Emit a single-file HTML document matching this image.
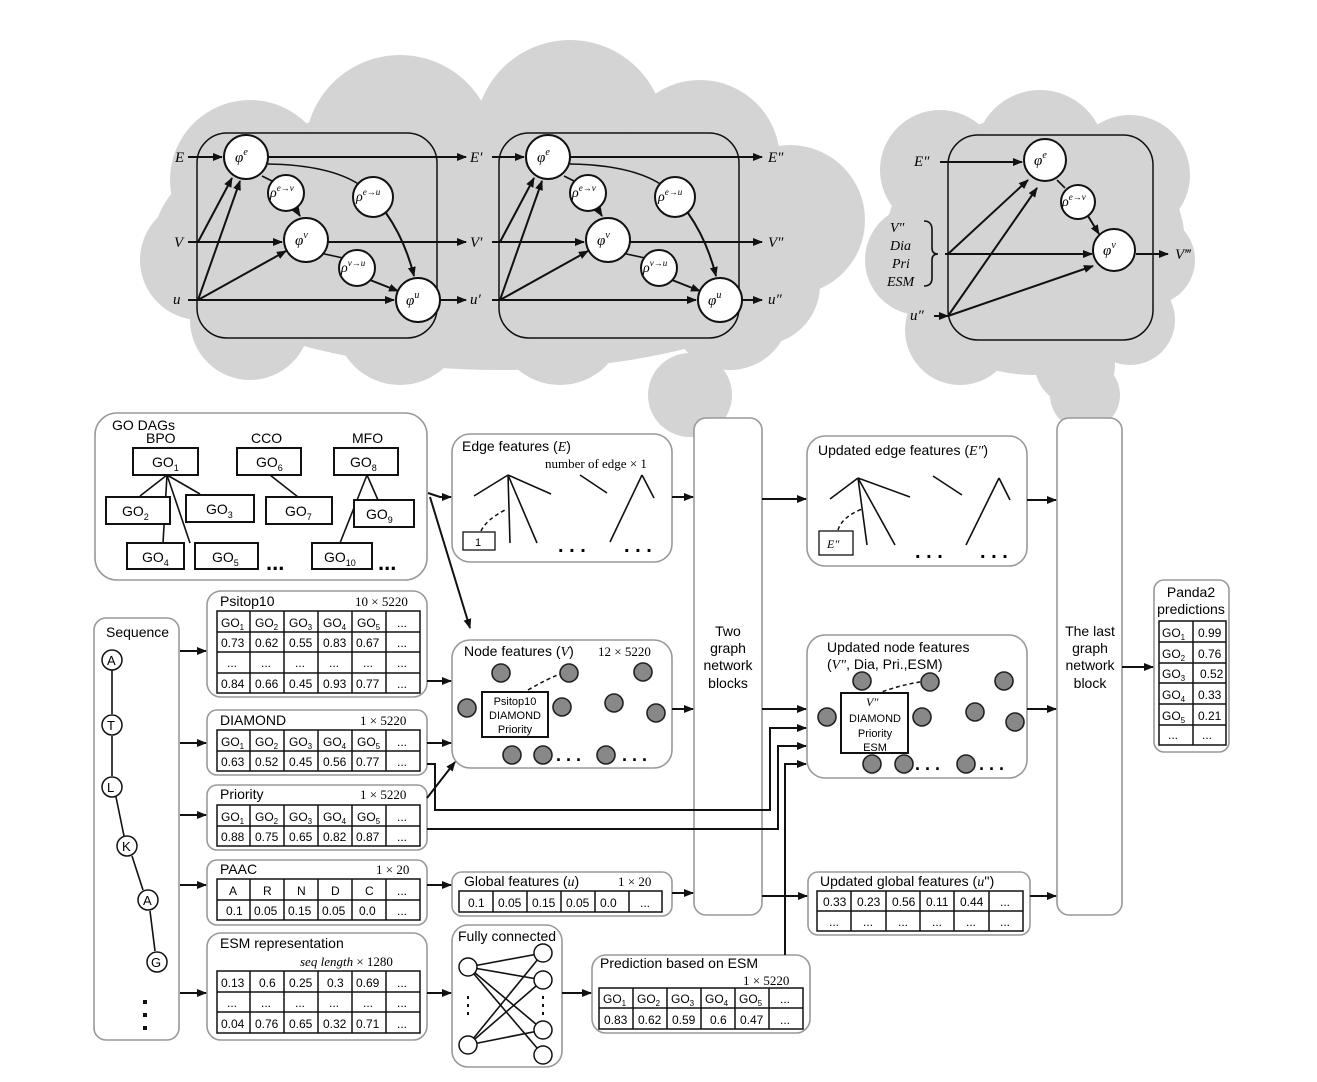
<!DOCTYPE html>
<html><head><meta charset="utf-8"><style>
body{margin:0;background:#fff}
svg{display:block;font-family:"Liberation Sans",sans-serif}
.m{font-family:"Liberation Serif",serif;font-style:italic}
.s{font-family:"Liberation Serif",serif}
.b{fill:#fff;stroke:#999;stroke-width:1.6}
.t{fill:none;stroke:#111;stroke-width:1.5}
.l{stroke:#111;stroke-width:1.6;fill:none}
.a{stroke:#111;stroke-width:2;fill:none;marker-end:url(#ar)}
.n{fill:#fff;stroke:#111;stroke-width:2}
.g{fill:#888;stroke:#222;stroke-width:1.6}
.c{fill:#fff;stroke:#111;stroke-width:1.5}
</style></head><body>
<svg width="1317" height="1082" viewBox="0 0 1317 1082">
<defs><marker id="ar" markerWidth="10" markerHeight="8" refX="9" refY="4" orient="auto" markerUnits="userSpaceOnUse"><path d="M0,0 L10,4 L0,8z" fill="#111"/></marker></defs>
<!-- clouds -->
<g fill="#d4d4d4">
<ellipse cx="500" cy="235" rx="345" ry="135"/>
<circle cx="250" cy="180" r="80"/><circle cx="400" cy="150" r="95"/><circle cx="570" cy="135" r="95"/>
<circle cx="700" cy="160" r="80"/><circle cx="790" cy="220" r="75"/><circle cx="200" cy="260" r="60"/>
<circle cx="250" cy="320" r="60"/><circle cx="400" cy="320" r="65"/><circle cx="560" cy="320" r="65"/>
<circle cx="730" cy="310" r="60"/><circle cx="690" cy="395" r="42"/><circle cx="760" cy="285" r="60"/>
<ellipse cx="1035" cy="245" rx="150" ry="130"/>
<circle cx="940" cy="170" r="60"/><circle cx="1040" cy="155" r="65"/><circle cx="1130" cy="175" r="60"/>
<circle cx="920" cy="260" r="55"/><circle cx="1150" cy="260" r="45"/><circle cx="960" cy="330" r="55"/>
<circle cx="1060" cy="320" r="60"/><circle cx="1130" cy="320" r="45"/><circle cx="1085" cy="395" r="35"/>
<circle cx="1075" cy="365" r="40"/>
</g>
<!-- block 1 -->
<g>
<rect x="197" y="133" width="240" height="205" rx="30" class="t"/>
<line x1="188" y1="157" x2="222" y2="157" class="a"/>
<line x1="188" y1="242" x2="282" y2="242" class="a"/>
<line x1="188" y1="300" x2="394" y2="300" class="a"/>
<line x1="198" y1="242" x2="232" y2="178" class="a"/>
<line x1="198" y1="300" x2="240" y2="181" class="a"/>
<line x1="198" y1="300" x2="286" y2="251" class="a"/>
<line x1="268" y1="157" x2="466" y2="157" class="a"/>
<line x1="328" y1="242" x2="466" y2="242" class="a"/>
<line x1="440" y1="300" x2="466" y2="300" class="a"/>
<path d="M268,164 Q330,165 360,185" class="l"/>
<path d="M386,213 Q405,240 414,276" class="a"/>
<line x1="262" y1="176" x2="274" y2="182" class="l"/>
<line x1="295" y1="208" x2="300" y2="216" class="a"/>
<line x1="320" y1="253" x2="343" y2="258" class="l"/>
<line x1="370" y1="280" x2="398" y2="291" class="a"/>
<circle cx="246" cy="157" r="22" class="n"/><text x="235" y="162" class="m" font-size="15">φ<tspan font-size="10" dy="-7">e</tspan></text>
<circle cx="286" cy="193" r="18" class="n"/><text x="270" y="197" class="m" font-size="14">ρ<tspan font-size="9" dy="-6">e→v</tspan></text>
<circle cx="306" cy="240" r="22" class="n"/><text x="295" y="245" class="m" font-size="15">φ<tspan font-size="10" dy="-7">v</tspan></text>
<circle cx="373" cy="197" r="20" class="n"/><text x="356" y="201" class="m" font-size="14">ρ<tspan font-size="9" dy="-6">e→u</tspan></text>
<circle cx="357" cy="268" r="18" class="n"/><text x="341" y="272" class="m" font-size="14">ρ<tspan font-size="9" dy="-6">v→u</tspan></text>
<circle cx="418" cy="300" r="22" class="n"/><text x="406" y="305" class="m" font-size="15">φ<tspan font-size="10" dy="-7">u</tspan></text>
<text x="175" y="162" class="m" font-size="15">E</text><text x="174" y="247" class="m" font-size="15">V</text><text x="173" y="304" class="m" font-size="15">u</text>
<text x="470" y="162" class="m" font-size="15">E′</text><text x="470" y="247" class="m" font-size="15">V′</text><text x="470" y="304" class="m" font-size="15">u′</text>
</g>
<!-- block 2 -->
<g transform="translate(302,0)">
<rect x="197" y="133" width="240" height="205" rx="30" class="t"/>
<line x1="190" y1="157" x2="222" y2="157" class="a"/>
<line x1="190" y1="242" x2="282" y2="242" class="a"/>
<line x1="190" y1="300" x2="394" y2="300" class="a"/>
<line x1="198" y1="242" x2="232" y2="178" class="a"/>
<line x1="198" y1="300" x2="240" y2="181" class="a"/>
<line x1="198" y1="300" x2="286" y2="251" class="a"/>
<line x1="268" y1="157" x2="460" y2="157" class="a"/>
<line x1="328" y1="242" x2="460" y2="242" class="a"/>
<line x1="440" y1="300" x2="460" y2="300" class="a"/>
<path d="M268,164 Q330,165 360,185" class="l"/>
<path d="M386,213 Q405,240 414,276" class="a"/>
<line x1="262" y1="176" x2="274" y2="182" class="l"/>
<line x1="295" y1="208" x2="300" y2="216" class="a"/>
<line x1="320" y1="253" x2="343" y2="258" class="l"/>
<line x1="370" y1="280" x2="398" y2="291" class="a"/>
<circle cx="246" cy="157" r="22" class="n"/><text x="235" y="162" class="m" font-size="15">φ<tspan font-size="10" dy="-7">e</tspan></text>
<circle cx="286" cy="193" r="18" class="n"/><text x="270" y="197" class="m" font-size="14">ρ<tspan font-size="9" dy="-6">e→v</tspan></text>
<circle cx="306" cy="240" r="22" class="n"/><text x="295" y="245" class="m" font-size="15">φ<tspan font-size="10" dy="-7">v</tspan></text>
<circle cx="373" cy="197" r="20" class="n"/><text x="356" y="201" class="m" font-size="14">ρ<tspan font-size="9" dy="-6">e→u</tspan></text>
<circle cx="357" cy="268" r="18" class="n"/><text x="341" y="272" class="m" font-size="14">ρ<tspan font-size="9" dy="-6">v→u</tspan></text>
<circle cx="418" cy="300" r="22" class="n"/><text x="406" y="305" class="m" font-size="15">φ<tspan font-size="10" dy="-7">u</tspan></text>
<text x="466" y="162" class="m" font-size="15">E″</text><text x="466" y="247" class="m" font-size="15">V″</text><text x="466" y="304" class="m" font-size="15">u″</text>
</g>
<!-- block 3 -->
<g>
<rect x="948" y="135" width="205" height="205" rx="30" class="t"/>
<line x1="940" y1="162" x2="1022" y2="162" class="a"/>
<line x1="945" y1="254" x2="1092" y2="254" class="a"/>
<line x1="934" y1="316" x2="948" y2="316" class="a"/>
<line x1="948" y1="254" x2="1028" y2="180" class="a"/>
<line x1="948" y1="316" x2="1037" y2="188" class="a"/>
<line x1="948" y1="316" x2="1093" y2="266" class="a"/>
<line x1="1057" y1="180" x2="1065" y2="188" class="l"/>
<line x1="1088" y1="216" x2="1099" y2="234" class="a"/>
<line x1="1136" y1="254" x2="1168" y2="254" class="a"/>
<circle cx="1045" cy="160" r="21" class="n"/><text x="1034" y="165" class="m" font-size="15">φ<tspan font-size="10" dy="-7">e</tspan></text>
<circle cx="1078" cy="202" r="17" class="n"/><text x="1062" y="206" class="m" font-size="14">ρ<tspan font-size="9" dy="-6">e→v</tspan></text>
<circle cx="1114" cy="250" r="21" class="n"/><text x="1103" y="255" class="m" font-size="15">φ<tspan font-size="10" dy="-7">v</tspan></text>
<text x="914" y="166" class="m" font-size="15">E″</text>
<text x="890" y="232" class="m" font-size="14">V″</text><text x="890" y="250" class="m" font-size="14">Dia</text><text x="892" y="268" class="m" font-size="14">Pri</text><text x="887" y="286" class="m" font-size="14">ESM</text>
<path d="M924,221 Q932,221 932,230 L932,248 Q932,254 938,254 Q932,254 932,260 L932,278 Q932,286 924,286" class="l"/>
<text x="910" y="320" class="m" font-size="15">u″</text>
<text x="1175" y="259" class="m" font-size="15">V‴</text>
</g>
<!-- lower boxes -->
<rect x="95" y="413" width="332" height="167" rx="22" class="b"/>
<rect x="452" y="434" width="220" height="128" rx="18" class="b"/>
<rect x="694" y="418" width="68" height="497" rx="12" class="b"/>
<rect x="807" y="436" width="220" height="130" rx="18" class="b"/>
<rect x="1057" y="418" width="65" height="497" rx="12" class="b"/>
<rect x="1154" y="580" width="75" height="172" rx="10" class="b"/>
<rect x="94" y="618" width="85" height="422" rx="12" class="b"/>
<rect x="207" y="591" width="220" height="106" rx="14" class="b"/>
<rect x="452" y="640" width="220" height="128" rx="18" class="b"/>
<rect x="807" y="635" width="220" height="143" rx="18" class="b"/>
<rect x="207" y="710" width="220" height="65" rx="10" class="b"/>
<rect x="207" y="785" width="220" height="65" rx="10" class="b"/>
<rect x="207" y="860" width="220" height="65" rx="10" class="b"/>
<rect x="452" y="872" width="220" height="44" rx="10" class="b"/>
<rect x="808" y="872" width="222" height="63" rx="10" class="b"/>
<rect x="207" y="933" width="220" height="107" rx="14" class="b"/>
<rect x="452" y="925" width="110" height="142" rx="16" class="b"/>
<rect x="592" y="955" width="218" height="78" rx="14" class="b"/>
<!-- GO DAGs -->
<g font-size="14">
<text x="112" y="430">GO DAGs</text><text x="146" y="443">BPO</text><text x="251" y="443">CCO</text><text x="352" y="443">MFO</text>
<g class="l" stroke-width="1.3"><line x1="167" y1="475" x2="140" y2="496"/><line x1="167" y1="475" x2="200" y2="494"/><line x1="167" y1="475" x2="163" y2="543"/><line x1="167" y1="475" x2="190" y2="543"/><line x1="270" y1="475" x2="298" y2="497"/><line x1="367" y1="475" x2="340" y2="543"/><line x1="367" y1="475" x2="378" y2="500"/></g>
<g fill="#fff" stroke="#111" stroke-width="2">
<rect x="133" y="448" width="65" height="27"/><rect x="237" y="448" width="64" height="27"/><rect x="334" y="448" width="64" height="27"/>
<rect x="106" y="497" width="64" height="27"/><rect x="186" y="495" width="68" height="27"/><rect x="266" y="497" width="66" height="27"/><rect x="354" y="500" width="60" height="27"/>
<rect x="127" y="543" width="57" height="26"/><rect x="195" y="543" width="63" height="26"/><rect x="312" y="543" width="60" height="26"/>
</g>
<text x="152" y="467">GO<tspan font-size="9" dy="4">1</tspan></text><text x="256" y="467">GO<tspan font-size="9" dy="4">6</tspan></text><text x="350" y="467">GO<tspan font-size="9" dy="4">8</tspan></text>
<text x="122" y="516">GO<tspan font-size="9" dy="4">2</tspan></text><text x="206" y="514">GO<tspan font-size="9" dy="4">3</tspan></text><text x="285" y="516">GO<tspan font-size="9" dy="4">7</tspan></text><text x="366" y="519">GO<tspan font-size="9" dy="4">9</tspan></text>
<text x="142" y="562">GO<tspan font-size="9" dy="4">4</tspan></text><text x="212" y="562">GO<tspan font-size="9" dy="4">5</tspan></text><text x="324" y="562">GO<tspan font-size="9" dy="4">10</tspan></text>
<text x="266" y="570" font-size="22" font-weight="bold">...</text><text x="378" y="570" font-size="22" font-weight="bold">...</text>
</g>
<!-- Edge features -->
<g font-size="14">
<text x="462" y="451">Edge features (<tspan class="m">E</tspan>)</text>
<text x="545" y="468" class="s" font-size="13">number of edge × 1</text>
<g class="l"><line x1="474" y1="496" x2="508" y2="475"/><line x1="508" y1="475" x2="551" y2="494"/><line x1="508" y1="475" x2="510" y2="543"/><line x1="508" y1="475" x2="537" y2="543"/><line x1="580" y1="475" x2="607" y2="493"/><line x1="610" y1="542" x2="642" y2="475"/><line x1="642" y1="475" x2="654" y2="498"/></g>
<path d="M481,531 Q486,520 505,510" stroke="#111" stroke-width="1.5" fill="none" stroke-dasharray="4,3"/>
<rect x="463" y="532" width="32" height="18" fill="#fff" stroke="#111" stroke-width="1.3"/><text x="475" y="546" font-size="11">1</text>
<text x="558" y="552" font-size="20" font-weight="bold">. . .</text><text x="624" y="552" font-size="20" font-weight="bold">. . .</text>
</g>
<!-- Updated edge -->
<g font-size="14">
<text x="818" y="455">Updated edge features (<tspan class="m">E″</tspan>)</text>
<g class="l"><line x1="830" y1="499" x2="858" y2="478"/><line x1="858" y1="478" x2="910" y2="497"/><line x1="858" y1="478" x2="867" y2="545"/><line x1="858" y1="478" x2="895" y2="545"/><line x1="933" y1="476" x2="962" y2="495"/><line x1="966" y1="545" x2="999" y2="478"/><line x1="999" y1="478" x2="1010" y2="500"/></g>
<path d="M838,530 Q842,517 862,509" stroke="#111" stroke-width="1.5" fill="none" stroke-dasharray="4,3"/>
<rect x="819" y="531" width="34" height="24" fill="#fff" stroke="#111" stroke-width="1.3"/><text x="827" y="548" class="m" font-size="12">E″</text>
<text x="915" y="558" font-size="20" font-weight="bold">. . .</text><text x="980" y="558" font-size="20" font-weight="bold">. . .</text>
</g>
<!-- big block labels -->
<g font-size="14" text-anchor="middle">
<text x="728" y="636">Two</text><text x="728" y="653">graph</text><text x="728" y="670">network</text><text x="728" y="688">blocks</text>
<text x="1090" y="636">The last</text><text x="1090" y="653">graph</text><text x="1090" y="670">network</text><text x="1090" y="688">block</text>
<text x="1191" y="597">Panda2</text><text x="1191" y="614">predictions</text>
</g>
<!-- Panda table -->
<g font-size="12"><rect x="1159" y="621" width="67" height="124" class="t"/>
<g class="t"><line x1="1193" y1="621" x2="1193" y2="745"/><line x1="1159" y1="642" x2="1226" y2="642"/><line x1="1159" y1="663" x2="1226" y2="663"/><line x1="1159" y1="683" x2="1226" y2="683"/><line x1="1159" y1="704" x2="1226" y2="704"/><line x1="1159" y1="725" x2="1226" y2="725"/></g>
<text x="1162" y="637">GO<tspan font-size="8" dy="3">1</tspan></text><text x="1198" y="637">0.99</text>
<text x="1162" y="658">GO<tspan font-size="8" dy="3">2</tspan></text><text x="1198" y="658">0.76</text>
<text x="1162" y="678">GO<tspan font-size="8" dy="3">3</tspan></text><text x="1200" y="678">0.52</text>
<text x="1162" y="699">GO<tspan font-size="8" dy="3">4</tspan></text><text x="1198" y="699">0.33</text>
<text x="1162" y="720">GO<tspan font-size="8" dy="3">5</tspan></text><text x="1198" y="720">0.21</text>
<text x="1168" y="739">...</text><text x="1202" y="739">...</text></g>
<!-- Sequence -->
<g font-size="14"><text x="106" y="637">Sequence</text>
<path d="M112,670 L112,714 M112,736 L112,776 M116,797 L124,836 M132,856 L143,890 M150,911 L155,951" class="l" stroke-width="1.3"/>
<circle cx="112" cy="660" r="10" class="c"/><text x="107" y="665" font-size="13">A</text>
<circle cx="112" cy="725" r="10" class="c"/><text x="107" y="730" font-size="13">T</text>
<circle cx="112" cy="787" r="10" class="c"/><text x="107" y="792" font-size="13">L</text>
<circle cx="127" cy="846" r="10" class="c"/><text x="122" y="851" font-size="13">K</text>
<circle cx="148" cy="900" r="10" class="c"/><text x="143" y="905" font-size="13">A</text>
<circle cx="157" cy="962" r="10" class="c"/><text x="151" y="967" font-size="13">G</text>
<g fill="#111"><rect x="143" y="1000" width="4" height="4"/><rect x="143" y="1013" width="4" height="4"/><rect x="143" y="1026" width="4" height="4"/></g>
</g>
<!-- Psitop10 -->
<g font-size="12">
<text x="220" y="606" font-size="14">Psitop10</text><text x="355" y="606" class="s" font-size="13">10 × 5220</text>
<rect x="217" y="611" width="203" height="82" class="t"/>
<g class="t"><line x1="250" y1="611" x2="250" y2="693"/><line x1="284" y1="611" x2="284" y2="693"/><line x1="318" y1="611" x2="318" y2="693"/><line x1="352" y1="611" x2="352" y2="693"/><line x1="386" y1="611" x2="386" y2="693"/><line x1="217" y1="632" x2="420" y2="632"/><line x1="217" y1="652" x2="420" y2="652"/><line x1="217" y1="673" x2="420" y2="673"/></g>
<text x="221" y="627">GO<tspan font-size="8" dy="3">1</tspan></text><text x="255" y="627">GO<tspan font-size="8" dy="3">2</tspan></text><text x="289" y="627">GO<tspan font-size="8" dy="3">3</tspan></text><text x="323" y="627">GO<tspan font-size="8" dy="3">4</tspan></text><text x="357" y="627">GO<tspan font-size="8" dy="3">5</tspan></text><text x="397" y="627">...</text>
<text x="221" y="647">0.73</text><text x="255" y="647">0.62</text><text x="289" y="647">0.55</text><text x="323" y="647">0.83</text><text x="356" y="647">0.67</text><text x="397" y="647">...</text>
<text x="227" y="667">...</text><text x="261" y="667">...</text><text x="295" y="667">...</text><text x="329" y="667">...</text><text x="363" y="667">...</text><text x="397" y="667">...</text>
<text x="221" y="688">0.84</text><text x="255" y="688">0.66</text><text x="289" y="688">0.45</text><text x="323" y="688">0.93</text><text x="356" y="688">0.77</text><text x="397" y="688">...</text>
</g>
<!-- DIAMOND / Priority tables -->
<g font-size="12">
<text x="220" y="725" font-size="14">DIAMOND</text><text x="360" y="725" class="s" font-size="13">1 × 5220</text>
<rect x="217" y="730" width="203" height="41" class="t"/>
<g class="t"><line x1="250" y1="730" x2="250" y2="771"/><line x1="284" y1="730" x2="284" y2="771"/><line x1="318" y1="730" x2="318" y2="771"/><line x1="352" y1="730" x2="352" y2="771"/><line x1="386" y1="730" x2="386" y2="771"/><line x1="217" y1="751" x2="420" y2="751"/></g>
<text x="221" y="746">GO<tspan font-size="8" dy="3">1</tspan></text><text x="255" y="746">GO<tspan font-size="8" dy="3">2</tspan></text><text x="289" y="746">GO<tspan font-size="8" dy="3">3</tspan></text><text x="323" y="746">GO<tspan font-size="8" dy="3">4</tspan></text><text x="357" y="746">GO<tspan font-size="8" dy="3">5</tspan></text><text x="397" y="746">...</text>
<text x="221" y="766">0.63</text><text x="255" y="766">0.52</text><text x="289" y="766">0.45</text><text x="323" y="766">0.56</text><text x="356" y="766">0.77</text><text x="397" y="766">...</text>
<text x="220" y="799" font-size="14">Priority</text><text x="360" y="799" class="s" font-size="13">1 × 5220</text>
<rect x="217" y="805" width="203" height="41" class="t"/>
<g class="t"><line x1="250" y1="805" x2="250" y2="846"/><line x1="284" y1="805" x2="284" y2="846"/><line x1="318" y1="805" x2="318" y2="846"/><line x1="352" y1="805" x2="352" y2="846"/><line x1="386" y1="805" x2="386" y2="846"/><line x1="217" y1="826" x2="420" y2="826"/></g>
<text x="221" y="821">GO<tspan font-size="8" dy="3">1</tspan></text><text x="255" y="821">GO<tspan font-size="8" dy="3">2</tspan></text><text x="289" y="821">GO<tspan font-size="8" dy="3">3</tspan></text><text x="323" y="821">GO<tspan font-size="8" dy="3">4</tspan></text><text x="357" y="821">GO<tspan font-size="8" dy="3">5</tspan></text><text x="397" y="821">...</text>
<text x="221" y="841">0.88</text><text x="255" y="841">0.75</text><text x="289" y="841">0.65</text><text x="323" y="841">0.82</text><text x="356" y="841">0.87</text><text x="397" y="841">...</text>
<!-- PAAC -->
<text x="220" y="874" font-size="14">PAAC</text><text x="376" y="874" class="s" font-size="13">1 × 20</text>
<rect x="217" y="879" width="203" height="41" class="t"/>
<g class="t"><line x1="250" y1="879" x2="250" y2="920"/><line x1="284" y1="879" x2="284" y2="920"/><line x1="318" y1="879" x2="318" y2="920"/><line x1="352" y1="879" x2="352" y2="920"/><line x1="386" y1="879" x2="386" y2="920"/><line x1="217" y1="900" x2="420" y2="900"/></g>
<text x="229" y="895">A</text><text x="263" y="895">R</text><text x="297" y="895">N</text><text x="331" y="895">D</text><text x="365" y="895">C</text><text x="397" y="895">...</text>
<text x="226" y="915">0.1</text><text x="254" y="915">0.05</text><text x="288" y="915">0.15</text><text x="322" y="915">0.05</text><text x="359" y="915">0.0</text><text x="397" y="915">...</text>
<!-- ESM -->
<text x="220" y="948" font-size="14">ESM representation</text><text x="300" y="966" class="s" font-size="13"><tspan class="m">seq length</tspan> × 1280</text>
<rect x="217" y="971" width="203" height="62" class="t"/>
<g class="t"><line x1="250" y1="971" x2="250" y2="1033"/><line x1="284" y1="971" x2="284" y2="1033"/><line x1="318" y1="971" x2="318" y2="1033"/><line x1="352" y1="971" x2="352" y2="1033"/><line x1="386" y1="971" x2="386" y2="1033"/><line x1="217" y1="992" x2="420" y2="992"/><line x1="217" y1="1012" x2="420" y2="1012"/></g>
<text x="221" y="987">0.13</text><text x="259" y="987">0.6</text><text x="289" y="987">0.25</text><text x="327" y="987">0.3</text><text x="356" y="987">0.69</text><text x="397" y="987">...</text>
<text x="227" y="1007">...</text><text x="261" y="1007">...</text><text x="295" y="1007">...</text><text x="329" y="1007">...</text><text x="363" y="1007">...</text><text x="397" y="1007">...</text>
<text x="221" y="1028">0.04</text><text x="255" y="1028">0.76</text><text x="289" y="1028">0.65</text><text x="323" y="1028">0.32</text><text x="356" y="1028">0.71</text><text x="397" y="1028">...</text>
<!-- Global -->
<text x="464" y="886" font-size="14">Global features (<tspan class="m">u</tspan>)</text><text x="618" y="886" class="s" font-size="13">1 × 20</text>
<rect x="459" y="891" width="203" height="21" class="t"/>
<g class="t"><line x1="493" y1="891" x2="493" y2="912"/><line x1="527" y1="891" x2="527" y2="912"/><line x1="561" y1="891" x2="561" y2="912"/><line x1="595" y1="891" x2="595" y2="912"/><line x1="629" y1="891" x2="629" y2="912"/></g>
<text x="468" y="907">0.1</text><text x="498" y="907">0.05</text><text x="532" y="907">0.15</text><text x="566" y="907">0.05</text><text x="600" y="907">0.0</text><text x="640" y="907">...</text>
<!-- Updated global -->
<text x="820" y="886" font-size="14">Updated global features (<tspan class="m">u</tspan>'')</text>
<rect x="817" y="891" width="206" height="40" class="t"/>
<g class="t"><line x1="851" y1="891" x2="851" y2="931"/><line x1="886" y1="891" x2="886" y2="931"/><line x1="920" y1="891" x2="920" y2="931"/><line x1="954" y1="891" x2="954" y2="931"/><line x1="989" y1="891" x2="989" y2="931"/><line x1="817" y1="911" x2="1023" y2="911"/></g>
<text x="823" y="906">0.33</text><text x="857" y="906">0.23</text><text x="892" y="906">0.56</text><text x="926" y="906">0.11</text><text x="960" y="906">0.44</text><text x="1000" y="906">...</text>
<text x="829" y="926">...</text><text x="863" y="926">...</text><text x="898" y="926">...</text><text x="932" y="926">...</text><text x="966" y="926">...</text><text x="1000" y="926">...</text>
<!-- Prediction ESM -->
<text x="600" y="968" font-size="14">Prediction based on ESM</text><text x="743" y="985" class="s" font-size="13">1 × 5220</text>
<rect x="599" y="988" width="204" height="41" class="t"/>
<g class="t"><line x1="633" y1="988" x2="633" y2="1029"/><line x1="667" y1="988" x2="667" y2="1029"/><line x1="701" y1="988" x2="701" y2="1029"/><line x1="735" y1="988" x2="735" y2="1029"/><line x1="769" y1="988" x2="769" y2="1029"/><line x1="599" y1="1008" x2="803" y2="1008"/></g>
<text x="603" y="1003">GO<tspan font-size="8" dy="3">1</tspan></text><text x="637" y="1003">GO<tspan font-size="8" dy="3">2</tspan></text><text x="671" y="1003">GO<tspan font-size="8" dy="3">3</tspan></text><text x="705" y="1003">GO<tspan font-size="8" dy="3">4</tspan></text><text x="739" y="1003">GO<tspan font-size="8" dy="3">5</tspan></text><text x="780" y="1003">...</text>
<text x="604" y="1024">0.83</text><text x="638" y="1024">0.62</text><text x="672" y="1024">0.59</text><text x="710" y="1024">0.6</text><text x="740" y="1024">0.47</text><text x="780" y="1024">...</text>
</g>
<!-- Fully connected -->
<g>
<text x="458" y="941" font-size="14">Fully connected</text>
<g class="l" stroke-width="1.2"><line x1="468" y1="967" x2="543" y2="953"/><line x1="468" y1="967" x2="543" y2="980"/><line x1="468" y1="967" x2="543" y2="1030"/><line x1="468" y1="967" x2="543" y2="1055"/><line x1="468" y1="1045" x2="543" y2="953"/><line x1="468" y1="1045" x2="543" y2="980"/><line x1="468" y1="1045" x2="543" y2="1030"/></g>
<circle cx="468" cy="967" r="9" class="c" stroke-width="2"/><circle cx="468" cy="1045" r="9" class="c" stroke-width="2"/>
<circle cx="543" cy="953" r="9" class="c" stroke-width="2"/><circle cx="543" cy="980" r="9" class="c" stroke-width="2"/><circle cx="543" cy="1030" r="9" class="c" stroke-width="2"/><circle cx="543" cy="1055" r="9" class="c" stroke-width="2"/>
<g fill="#111"><rect x="467" y="996" width="2" height="3"/><rect x="467" y="1004" width="2" height="3"/><rect x="467" y="1012" width="2" height="3"/><rect x="542" y="996" width="2" height="3"/><rect x="542" y="1004" width="2" height="3"/><rect x="542" y="1012" width="2" height="3"/></g>
</g>
<!-- Node features -->
<g font-size="14">
<text x="464" y="656">Node features (<tspan class="m">V</tspan>)</text><text x="598" y="656" class="s" font-size="13">12 × 5220</text>
<path d="M528,690 Q545,680 560,674" stroke="#111" stroke-width="1.5" fill="none" stroke-dasharray="4,3"/>
<g class="g"><circle cx="501" cy="673" r="9"/><circle cx="569" cy="673" r="9"/><circle cx="643" cy="672" r="9"/><circle cx="467" cy="708" r="9"/><circle cx="562" cy="707" r="9"/><circle cx="614" cy="703" r="9"/><circle cx="656" cy="713" r="9"/><circle cx="512" cy="755" r="9"/><circle cx="543" cy="755" r="9"/><circle cx="606" cy="755" r="9"/></g>
<rect x="482" y="692" width="66" height="45" fill="#fff" stroke="#111" stroke-width="2"/>
<text x="515" y="705" font-size="11" text-anchor="middle">Psitop10</text><text x="515" y="719" font-size="11" text-anchor="middle">DIAMOND</text><text x="515" y="733" font-size="11" text-anchor="middle">Priority</text>
<text x="556" y="761" font-size="18" font-weight="bold">. . .</text><text x="622" y="761" font-size="18" font-weight="bold">. . .</text>
</g>
<!-- Updated node -->
<g font-size="14">
<text x="827" y="652">Updated node features</text><text x="827" y="669">(<tspan class="m">V″</tspan>, Dia, Pri.,ESM)</text>
<path d="M876,694 Q900,685 920,682" stroke="#111" stroke-width="1.5" fill="none" stroke-dasharray="4,3"/>
<g class="g"><circle cx="862" cy="681" r="9"/><circle cx="930" cy="682" r="9"/><circle cx="1004" cy="681" r="9"/><circle cx="827" cy="717" r="9"/><circle cx="922" cy="717" r="9"/><circle cx="975" cy="712" r="9"/><circle cx="1015" cy="722" r="9"/><circle cx="872" cy="764" r="9"/><circle cx="904" cy="764" r="9"/><circle cx="966" cy="764" r="9"/></g>
<rect x="841" y="693" width="67" height="60" fill="#fff" stroke="#111" stroke-width="2"/>
<text x="866" y="706" class="m" font-size="12">V″</text>
<text x="875" y="722" font-size="11" text-anchor="middle">DIAMOND</text><text x="875" y="737" font-size="11" text-anchor="middle">Priority</text><text x="875" y="751" font-size="11" text-anchor="middle">ESM</text>
<text x="915" y="770" font-size="18" font-weight="bold">. . .</text><text x="979" y="770" font-size="18" font-weight="bold">. . .</text>
</g>
<!-- connectors -->
<line x1="180" y1="651" x2="206" y2="651" class="a"/>
<line x1="180" y1="743" x2="206" y2="743" class="a"/>
<line x1="180" y1="815" x2="206" y2="815" class="a"/>
<line x1="180" y1="885" x2="206" y2="885" class="a"/>
<line x1="180" y1="993" x2="206" y2="993" class="a"/>
<path d="M428,493 L440,497 L451,497" class="a"/>
<line x1="430" y1="497" x2="470" y2="628" class="a"/>
<line x1="427" y1="681" x2="451" y2="681" class="a"/>
<line x1="427" y1="743" x2="451" y2="743" class="a"/>
<line x1="427" y1="798" x2="455" y2="762" class="a"/>
<line x1="427" y1="885" x2="451" y2="885" class="a"/>
<line x1="427" y1="993" x2="451" y2="993" class="a"/>
<line x1="562" y1="993" x2="591" y2="993" class="a"/>
<line x1="672" y1="497" x2="693" y2="497" class="a"/>
<line x1="672" y1="709" x2="693" y2="709" class="a"/>
<line x1="672" y1="893" x2="693" y2="893" class="a"/>
<line x1="762" y1="499" x2="806" y2="499" class="a"/>
<line x1="762" y1="709" x2="806" y2="709" class="a"/>
<line x1="762" y1="896" x2="807" y2="896" class="a"/>
<path d="M427,764 L435,764 L435,810 L770,810 L770,728 L806,728" class="a"/>
<path d="M427,829 L778,829 L778,746 L806,746" class="a"/>
<path d="M785,955 L785,764 L806,764" class="a" stroke-width="1.5"/>
<line x1="1027" y1="500" x2="1056" y2="500" class="a"/>
<line x1="1027" y1="709" x2="1056" y2="709" class="a"/>
<line x1="1030" y1="896" x2="1056" y2="896" class="a"/>
<line x1="1122" y1="667" x2="1153" y2="667" class="a"/>
</svg>
</body></html>
